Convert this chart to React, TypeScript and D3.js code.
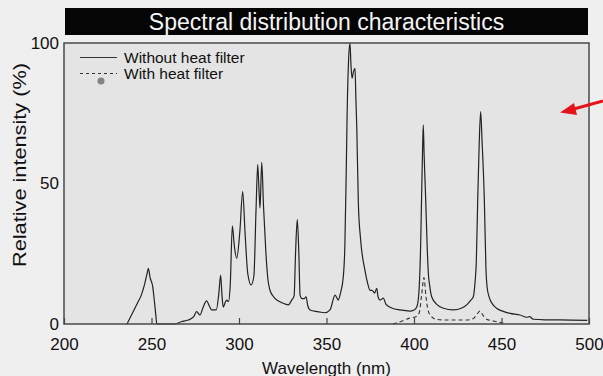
import { useEffect, useRef } from 'react';
import * as d3 from 'd3';

// Wavelength (nm) / relative intensity (%)
const wlNoFilter = [
  236, 238, 240, 242, 244, 246, 247.5, 248.2, 249.2, 250.7, 251.5, 252.5, 253,
  263, 267, 271, 274, 275.8, 277.7, 279.5, 281.5, 283, 284.4, 287, 288.5, 289.5,
  290.3, 291, 292, 293, 294, 295, 296.2, 297.3, 298.7, 300.5, 302.1, 303.5, 305,
  306.9, 308.5, 309.7, 310.7, 311.4, 312, 313, 314, 315.4, 316.5, 317.7, 320,
  323.4, 326, 328.2, 330.1, 331.5, 332.3, 333.3, 334.2, 334.9, 336, 337.2, 338.3,
  339.3, 340.6, 345, 349.1, 352, 354.9, 356.7, 358, 359.6, 360.5, 361.3, 361.8,
  362.7, 363.4, 364, 364.6, 365.5, 366.3, 366.8, 367.3, 368.2, 369.5, 372, 373.5,
  374.9, 376, 377.5, 378.7, 379.5, 380.6, 382.5, 384, 387.3, 392, 397.7, 400,
  401.5, 402.5, 403.2, 403.8, 404.3, 404.9, 405.3, 405.8, 406.7, 407.5, 408.2,
  409, 410.1, 413, 416.8, 422.5, 427, 430.1, 432.5, 433.9, 434.9, 435.6, 436.4,
  437.3, 438.1, 438.9, 440.2, 441.1, 441.8, 443, 445, 447.2, 451, 454.9, 460.6,
  464.4, 466, 468.2, 475, 490, 499,
];
const valNoFilter = [
  0, 2.5, 5, 7.5, 10, 14, 18, 19.8, 16.5, 13.3, 9, 3, 0,
  0, 0.8, 1.4, 2.5, 4.4, 3.2, 6, 8.2, 6.5, 5, 5, 11, 17.4,
  10, 6, 7.5, 8.5, 8, 14, 34.9, 28, 23.4, 33, 47.1, 32, 18,
  13.9, 17, 40, 56.8, 48, 41.2, 57.5, 42, 25, 16, 12, 9.5,
  7.9, 7.2, 6.8, 8.5, 10, 25, 37.2, 25, 10.3, 9, 9, 9.7,
  6.5, 5, 4.4, 4, 5, 10.3, 8.5, 11, 16.8, 28, 55, 75,
  95, 100, 92, 87.5, 90, 91, 80, 70, 43, 30, 19, 14.5,
  12, 12, 11, 12.7, 9.5, 8.5, 9.2, 7, 5.7, 5, 4.6, 5,
  6, 9, 16, 28, 44, 62, 70.8, 60, 44, 28, 18,
  13.5, 9.7, 7, 5.6, 5, 5.6, 6.8, 8.5, 9.7, 15, 22, 44,
  65, 75.6, 65, 44, 20, 13, 9.5, 7, 5.6, 4.5, 3.8, 3.2,
  2.4, 2.6, 1.7, 1.5, 1.4, 1.3,
];

const wlFilter = [
  388, 393, 397, 401, 403, 404.3, 405.7, 406.8, 408, 410, 413, 420, 430, 434,
  436, 437.7, 439.5, 441.5, 446, 451,
];
const valFilter = [
  0, 1, 2, 2.6, 4, 10, 16.5, 10, 5, 2.6, 1.6, 1.4, 1.4, 2,
  3.5, 4.6, 3, 1.7, 1, 0.3,
];

const xTicks = [200, 250, 300, 350, 400, 450, 500];
const yTicks = [0, 50, 100];
const legendLabels = ['Without heat filter', 'With heat filter'];
const title = 'Spectral distribution characteristics';

const FONT = '"Liberation Sans", Arial, Helvetica, sans-serif';

export default function App() {
  const svgRef = useRef<SVGSVGElement>(null);
  const width = 603;
  const height = 376;

  useEffect(() => {
    if (!svgRef.current) return;
    d3.select(svgRef.current).selectAll('*').remove();

    const svg = d3.select(svgRef.current)
      .attr('width', width)
      .attr('height', height);

    const x = d3.scaleLinear().domain([200, 500]).range([64, 589]);
    const y = d3.scaleLinear().domain([0, 100]).range([324, 43]);

    // page + plot backgrounds
    svg.append('rect')
      .attr('width', width)
      .attr('height', height)
      .attr('fill', '#efefef');

    svg.append('rect')
      .attr('x', x(200))
      .attr('y', y(100))
      .attr('width', x(500) - x(200))
      .attr('height', y(0) - y(100))
      .attr('fill', '#e4e4e4');

    // title bar
    svg.append('rect')
      .attr('x', 65)
      .attr('y', 8)
      .attr('width', 523)
      .attr('height', 27)
      .attr('fill', '#050505');

    svg.append('text')
      .attr('x', 326.5)
      .attr('y', 29.5)
      .attr('text-anchor', 'middle')
      .attr('fill', '#f4f4f4')
      .attr('font-family', FONT)
      .attr('font-size', '23px')
      .text(title);

    // curves
    const solid = wlNoFilter.map((w, i) => [w, valNoFilter[i]] as [number, number]);
    const dashed = wlFilter.map((w, i) => [w, valFilter[i]] as [number, number]);

    const line = d3.line<[number, number]>()
      .x(d => x(d[0]))
      .y(d => y(d[1]))
      .curve(d3.curveMonotoneX);

    svg.append('path')
      .datum(dashed)
      .attr('d', line)
      .attr('fill', 'none')
      .attr('stroke', '#333')
      .attr('stroke-width', 1.1)
      .attr('stroke-dasharray', '4,3');

    svg.append('path')
      .datum(solid)
      .attr('d', line)
      .attr('fill', 'none')
      .attr('stroke', '#222')
      .attr('stroke-width', 1.2)
      .attr('stroke-linejoin', 'round');

    // frame
    svg.append('rect')
      .attr('x', x(200))
      .attr('y', y(100))
      .attr('width', x(500) - x(200))
      .attr('height', y(0) - y(100))
      .attr('fill', 'none')
      .attr('stroke', '#4a4a4a')
      .attr('stroke-width', 1.5);

    // x axis: inward ticks, labels below
    const xAxis = svg.append('g')
      .attr('transform', `translate(0,${y(0)})`)
      .call(d3.axisBottom(x).tickValues(xTicks).tickSizeInner(-6).tickSizeOuter(0).tickPadding(14));
    xAxis.select('.domain').remove();
    xAxis.selectAll('line').attr('stroke', '#444').attr('stroke-width', 1.2);
    xAxis.selectAll('text')
      .attr('fill', '#111')
      .attr('font-family', FONT)
      .attr('font-size', '17px');

    // y axis labels
    const yAxis = svg.append('g')
      .attr('transform', `translate(${x(200)},0)`)
      .call(d3.axisLeft(y).tickValues(yTicks).tickSize(0).tickPadding(5));
    yAxis.select('.domain').remove();
    yAxis.selectAll('text')
      .attr('fill', '#111')
      .attr('font-family', FONT)
      .attr('font-size', '17px');

    // axis titles
    svg.append('text')
      .attr('x', 326.5)
      .attr('y', 374)
      .attr('text-anchor', 'middle')
      .attr('fill', '#111')
      .attr('font-family', FONT)
      .attr('font-size', '17px')
      .text('Wavelength (nm)');

    svg.append('text')
      .attr('transform', 'translate(26,165) rotate(-90)')
      .attr('text-anchor', 'middle')
      .attr('fill', '#111')
      .attr('font-family', FONT)
      .attr('font-size', '18px')
      .attr('textLength', 204)
      .attr('lengthAdjust', 'spacingAndGlyphs')
      .text('Relative intensity (%)');

    // legend
    const legend = svg.append('g');
    legendLabels.forEach((label, i) => {
      const ly = 57.5 + i * 16;
      legend.append('line')
        .attr('x1', 80)
        .attr('x2', 117)
        .attr('y1', ly)
        .attr('y2', ly)
        .attr('stroke', '#333')
        .attr('stroke-width', 1.1)
        .attr('stroke-dasharray', i === 0 ? null : '3,3');
      legend.append('text')
        .attr('x', 124)
        .attr('y', ly + 5.4)
        .attr('fill', '#111')
        .attr('font-family', FONT)
        .attr('font-size', '15.5px')
        .text(label);
    });

    // smudge on the scan
    svg.append('circle')
      .attr('cx', 101)
      .attr('cy', 81)
      .attr('r', 3.5)
      .attr('fill', '#6a6a6a')
      .attr('opacity', 0.8);

    // red annotation arrow
    svg.append('line')
      .attr('x1', 603)
      .attr('y1', 101)
      .attr('x2', 572)
      .attr('y2', 109.5)
      .attr('stroke', '#e5141b')
      .attr('stroke-width', 3);
    svg.append('path')
      .attr('d', 'M560,112.5 L574,103 L577,115 Z')
      .attr('fill', '#e5141b');
  }, []);

  return (
    <svg
      ref={svgRef}
      style={{ position: 'absolute', left: 0, top: 0, display: 'block' }}
    />
  );
}
